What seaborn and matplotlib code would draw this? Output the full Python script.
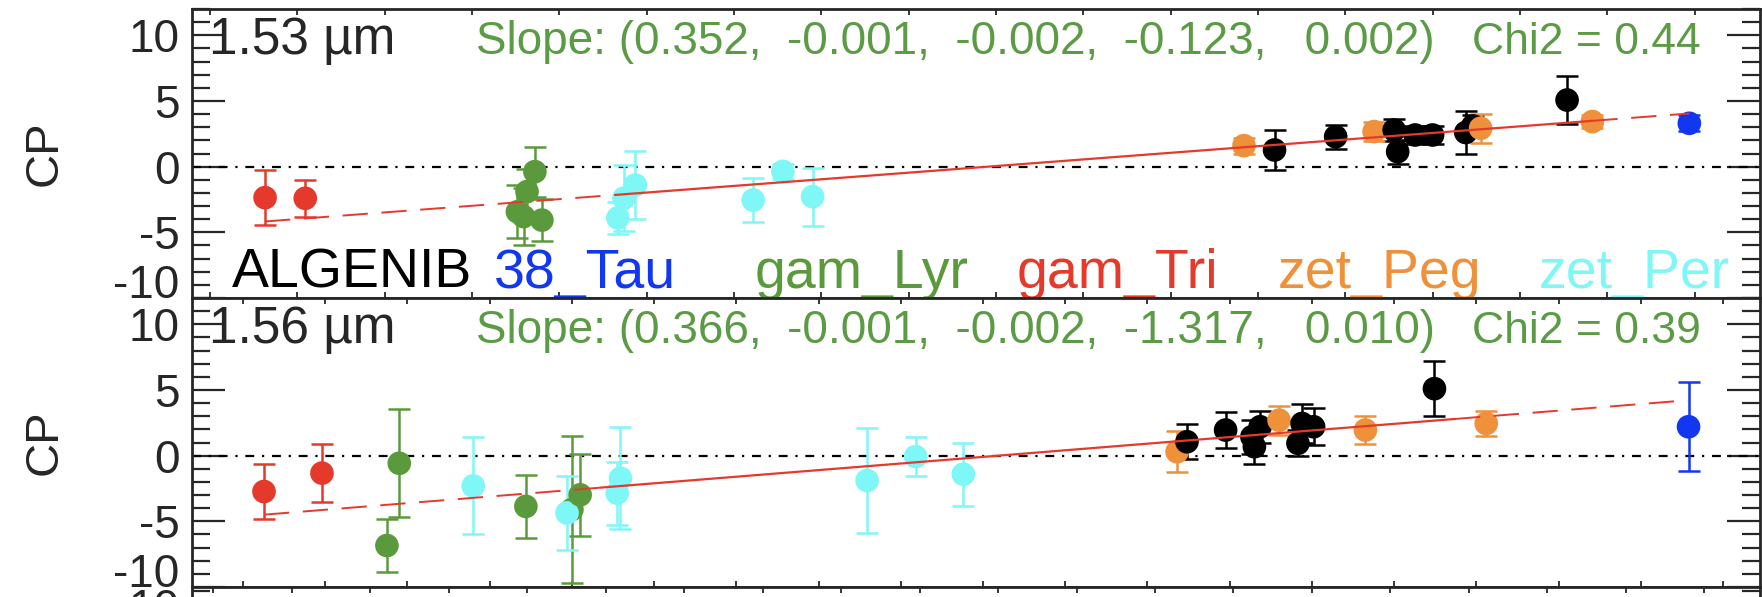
import numpy as np
import pandas as pd
import seaborn as sns
import matplotlib.pyplot as plt
from matplotlib.ticker import MultipleLocator

# Stars and their plot colours
stars = ['ALGENIB', '38_Tau', 'gam_Lyr', 'gam_Tri', 'zet_Peg', 'zet_Per']
star_colors = ['#000000', '#1237f0', '#5b9a3c', '#e4392b', '#ef913b', '#80f7f7']

# 1.53 um panel
star_153 = ['gam_Tri', 'gam_Tri', 'gam_Lyr', 'gam_Lyr', 'gam_Lyr', 'gam_Lyr', 'gam_Lyr',
            'zet_Per', 'zet_Per', 'zet_Per', 'zet_Per', 'zet_Per', 'zet_Per',
            'zet_Peg', 'ALGENIB', 'ALGENIB', 'zet_Peg', 'ALGENIB', 'ALGENIB', 'ALGENIB',
            'ALGENIB', 'ALGENIB', 'ALGENIB', 'zet_Peg', 'ALGENIB', 'zet_Peg', '38_Tau']
x_153 = [6.3, 10.9, 35.2, 35.9, 36.3, 37.2, 38.0,
         46.7, 47.4, 48.7, 62.2, 65.6, 69.0,
         118.4, 121.9, 128.9, 133.3, 135.6, 136.0, 138.0,
         140.0, 143.8, 144.6, 145.5, 155.4, 158.3, 169.4]
cp_153 = [-2.36, -2.41, -3.43, -3.8, -1.9, -0.38, -4.07,
          -3.9, -2.4, -1.4, -2.54, -0.36, -2.28,
          1.6, 1.27, 2.28, 2.67, 2.79, 1.14, 2.41,
          2.41, 2.6, 3.1, 2.92, 5.07, 3.43, 3.3]
err_153 = [2.1, 1.4, 2.0, 2.2, 1.7, 1.9, 1.6,
           1.2, 2.5, 2.6, 1.65, 0.6, 2.2,
           0.6, 1.5, 0.9, 0.7, 0.8, 0.9, 0.7,
           0.7, 1.6, 0.8, 1.1, 1.8, 0.5, 0.6]
fit_153 = (-4.49, 0.0504)            # intercept, slope
fit_range_153 = (6.3, 46.4, 158.3, 169.4)  # dashed / solid / dashed

# 1.56 um panel
star_156 = ['gam_Tri', 'gam_Tri', 'gam_Lyr', 'gam_Lyr', 'zet_Per', 'gam_Lyr', 'gam_Lyr',
            'zet_Per', 'gam_Lyr', 'zet_Per', 'zet_Per', 'zet_Per', 'zet_Per', 'zet_Per',
            'zet_Peg', 'ALGENIB', 'ALGENIB', 'ALGENIB', 'ALGENIB', 'ALGENIB', 'zet_Peg',
            'ALGENIB', 'ALGENIB', 'ALGENIB', 'zet_Peg', 'ALGENIB', 'zet_Peg', '38_Tau']
x_156 = [2.55, 9.6, 17.5, 19.0, 28.0, 34.4, 40.0,
         39.4, 41.0, 45.5, 45.9, 75.9, 81.8, 87.6,
         113.6, 114.8, 119.5, 122.7, 123.0, 123.7, 126.0,
         128.3, 128.8, 130.2, 136.5, 144.9, 151.2, 175.8]
cp_156 = [-2.73, -1.33, -6.84, -0.58, -2.3, -3.86, -4.1,
          -4.36, -2.98, -2.85, -1.72, -1.89, -0.07, -1.41,
          0.3, 1.06, 1.95, 1.44, 0.68, 2.2, 2.7,
          0.94, 2.45, 2.2, 1.95, 5.1, 2.45, 2.2]
err_156 = [2.1, 2.2, 2.0, 4.1, 3.7, 2.4, 5.6,
           2.8, 3.1, 2.4, 3.9, 4.0, 1.5, 2.4,
           1.55, 1.35, 1.4, 1.3, 1.3, 1.2, 1.1,
           1.0, 1.5, 1.4, 1.1, 2.1, 0.95, 3.4]
fit_156 = (-4.62, 0.0503)
fit_range_156 = (2.55, 43.4, 147.4, 175.7)

panels = [
    ('1.53 µm', 'Slope: (0.352,  -0.001,  -0.002,  -0.123,   0.002)', 'Chi2 = 0.44',
     star_153, x_153, cp_153, err_153, fit_153, fit_range_153, (-2.06, 177.5)),
    ('1.56 µm', 'Slope: (0.366,  -0.001,  -0.002,  -1.317,   0.010)', 'Chi2 = 0.39',
     star_156, x_156, cp_156, err_156, fit_156, fit_range_156, (-6.2, 184.5)),
]

sns.set_style('ticks')
plt.rcParams['font.family'] = ['Liberation Sans', 'DejaVu Sans']

palette = dict(zip(stars, star_colors))
text_green = '#5c9b45'

fig = plt.figure(figsize=(17.62, 5.97), dpi=100)
ax_left, ax_w, ax_h = 0.1090, 0.8899, 0.4841
bottoms = [0.5008, 0.0167]


def style_axis(ax, xlim):
    ax.set_xlim(*xlim)
    ax.set_ylim(-10, 12)
    ax.xaxis.set_major_locator(MultipleLocator(10))
    ax.yaxis.set_minor_locator(MultipleLocator(1))
    ax.set_yticks([-10, -5, 0, 5, 10], ['-10', '-5', '0', '5', '10'])
    ax.tick_params(axis='x', which='major', direction='in', top=True, bottom=True,
                   length=4, width=1.3, labelbottom=False)
    ax.tick_params(axis='y', which='major', direction='in', left=True, right=True,
                   length=24, width=1.6, labelsize=33, pad=9)
    ax.tick_params(axis='y', which='minor', direction='in', left=True, right=True,
                   length=13, width=1.6)
    for sp in ax.spines.values():
        sp.set_linewidth(2)
        sp.set_visible(True)
    ax.set_xlabel('')
    ax.set_ylabel('CP', fontsize=34)
    ax.yaxis.set_label_coords(-0.08, 0.5)
    # bottom label sits on the lower edge, as in the original
    for lab in ax.get_yticklabels():
        if lab.get_text() == '-10':
            lab.set_verticalalignment('baseline')


for i, (wl, slope_txt, chi_txt, st, xs, cps, errs, fit, frange, xlim) in enumerate(panels):
    ax = fig.add_axes([ax_left, bottoms[i], ax_w, ax_h])
    df = pd.DataFrame({'star': st, 'x': xs, 'cp': cps, 'err': errs})

    for name in stars:
        sub = df[df['star'] == name]
        if len(sub):
            ax.errorbar(sub['x'], sub['cp'], yerr=sub['err'], fmt='none',
                        ecolor=palette[name], elinewidth=1.8, capsize=8,
                        capthick=1.8, zorder=2)
    sns.scatterplot(data=df, x='x', y='cp', hue='star', palette=palette,
                    s=290, edgecolor='none', legend=False, ax=ax, zorder=3)

    ax.axhline(0, color='black', lw=1.6, ls=(0, (4, 3.5, 1, 3.5)), zorder=1)

    a, b = fit
    x0, x1, x2, x3 = frange
    xd1 = np.array([x0, x1])
    xs_ = np.array([x1, x2])
    xd2 = np.array([x2, x3])
    ax.plot(xd1, a + b * xd1, color='#e4392b', lw=1.4, ls=(0, (13, 7)), zorder=4)
    ax.plot(xs_, a + b * xs_, color='#e4392b', lw=1.6, zorder=4)
    ax.plot(xd2, a + b * xd2, color='#e4392b', lw=1.4, ls=(0, (13, 7)), zorder=4)

    style_axis(ax, xlim)

    ax.text(0.0105, 0.843, wl, transform=ax.transAxes, fontsize=37,
            ha='left', va='baseline', zorder=5)
    ax.text(0.181, 0.843, slope_txt, transform=ax.transAxes, fontsize=33,
            color=text_green, ha='left', va='baseline')
    ax.text(0.9624, 0.843, chi_txt, transform=ax.transAxes, fontsize=32,
            color=text_green, ha='right', va='baseline')

    if i == 0:
        for k, (name, col) in enumerate(zip(stars, star_colors)):
            xf = (232 + 261.4 * k - 192) / 1568
            ax.text(xf, 0.035, name, transform=ax.transAxes, fontsize=40,
                    color=col, ha='left', va='baseline')

# next panel of the stack, cut off by the figure edge
ax3 = fig.add_axes([ax_left, 0.0167 - 0.4841, ax_w, ax_h])
style_axis(ax3, (-2.7, 197.1))
ax3.set_ylim(-10, 11.3)
ax3.set_ylabel('')

fig.savefig('out.png', dpi=100)
